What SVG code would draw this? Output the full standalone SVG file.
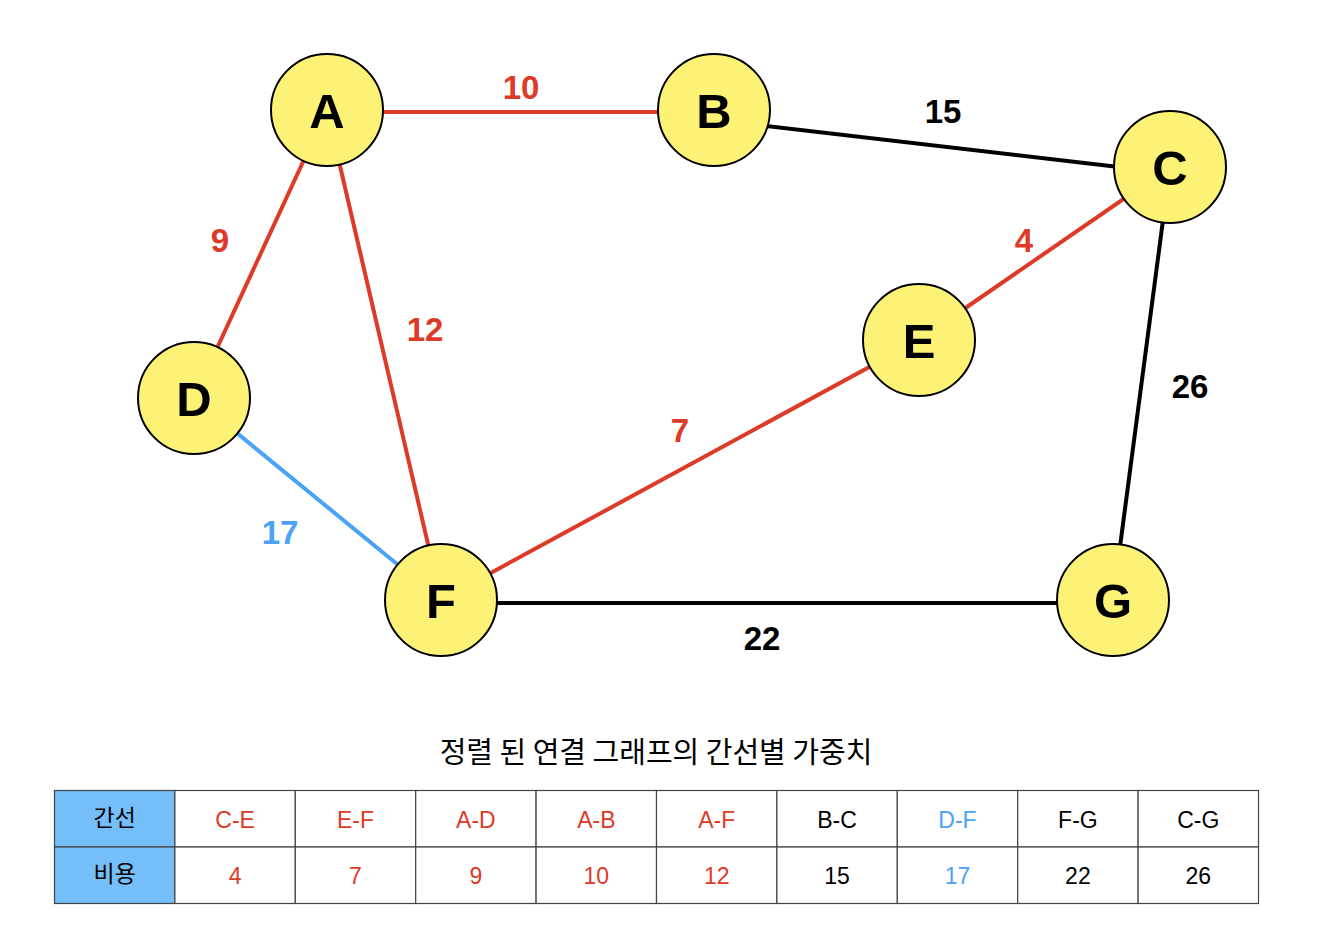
<svg xmlns="http://www.w3.org/2000/svg" width="1338" height="940" viewBox="0 0 1338 940">
<style>
.e{stroke-width:4;fill:none}
.r{stroke:#DD3A27}
.k{stroke:#000}
.b{stroke:#4BA3F5}
.n{fill:#FCF275;stroke:#000;stroke-width:2}
.nl{font-family:"Liberation Sans",Arial,sans-serif;font-weight:bold;font-size:49px;text-anchor:middle;fill:#000}
.wl{font-family:"Liberation Sans",Arial,sans-serif;font-weight:bold;font-size:33px;text-anchor:middle}
.tr{fill:#DD3A27}.tk{fill:#000}.tb{fill:#4BA3F5}
.cell{fill:#fff;stroke:#444;stroke-width:1.2}
.hd{fill:#74BEF9;stroke:#444;stroke-width:1.2}
.tt{font-family:"Liberation Sans","Noto Sans CJK KR",sans-serif;font-size:23px;text-anchor:middle}
.title{font-family:"Noto Sans CJK KR",sans-serif;font-size:29px;text-anchor:middle;fill:#000}
</style>
<g id="connectors">
<line class="e r" x1="327" y1="112" x2="714" y2="112"/>
<line class="e k" x1="714" y1="120" x2="1170" y2="173"/>
<line class="e r" x1="1170" y1="167" x2="919" y2="340"/>
<line class="e k" x1="1170" y1="167" x2="1113" y2="600"/>
<line class="e r" x1="327" y1="110" x2="194" y2="398"/>
<line class="e r" x1="327" y1="110" x2="441" y2="600"/>
<line class="e b" x1="194" y1="398" x2="441" y2="600"/>
<line class="e r" x1="919" y1="340" x2="441" y2="600"/>
<line class="e k" x1="441" y1="603" x2="1113" y2="603"/>
<text class="wl tr" x="521" y="99">10</text>
<text class="wl tk" x="943" y="123">15</text>
<text class="wl tr" x="1024" y="252">4</text>
<text class="wl tr" x="220" y="252">9</text>
<text class="wl tr" x="425" y="341">12</text>
<text class="wl tk" x="1190" y="398">26</text>
<text class="wl tr" x="680" y="442">7</text>
<text class="wl tb" x="280" y="544">17</text>
<text class="wl tk" x="762" y="650">22</text>
</g>
<g id="node-A"><circle class="n" cx="327" cy="110" r="56"/><text class="nl" x="327" y="128">A</text></g>
<g id="node-B"><circle class="n" cx="714" cy="110" r="56"/><text class="nl" x="714" y="128">B</text></g>
<g id="node-C"><circle class="n" cx="1170" cy="167" r="56"/><text class="nl" x="1170" y="185">C</text></g>
<g id="node-D"><circle class="n" cx="194" cy="398" r="56"/><text class="nl" x="194" y="416">D</text></g>
<g id="node-E"><circle class="n" cx="919" cy="340" r="56"/><text class="nl" x="919" y="358">E</text></g>
<g id="node-F"><circle class="n" cx="441" cy="600" r="56"/><text class="nl" x="441" y="618">F</text></g>
<g id="node-G"><circle class="n" cx="1113" cy="600" r="56"/><text class="nl" x="1113" y="618">G</text></g>
<g id="table">
<text class="title" x="656" y="763">정렬 된 연결 그래프의 간선별 가중치</text>
<rect class="hd" x="54.5" y="790.5" width="120.4" height="56.5"/>
<rect class="hd" x="54.5" y="847" width="120.4" height="56.5"/>
<rect class="cell" x="174.9" y="790.5" width="120.4" height="56.5"/>
<rect class="cell" x="295.3" y="790.5" width="120.4" height="56.5"/>
<rect class="cell" x="415.7" y="790.5" width="120.4" height="56.5"/>
<rect class="cell" x="536.1" y="790.5" width="120.4" height="56.5"/>
<rect class="cell" x="656.5" y="790.5" width="120.4" height="56.5"/>
<rect class="cell" x="776.9" y="790.5" width="120.4" height="56.5"/>
<rect class="cell" x="897.3" y="790.5" width="120.4" height="56.5"/>
<rect class="cell" x="1017.7" y="790.5" width="120.4" height="56.5"/>
<rect class="cell" x="1138.1" y="790.5" width="120.4" height="56.5"/>
<rect class="cell" x="174.9" y="847" width="120.4" height="56.5"/>
<rect class="cell" x="295.3" y="847" width="120.4" height="56.5"/>
<rect class="cell" x="415.7" y="847" width="120.4" height="56.5"/>
<rect class="cell" x="536.1" y="847" width="120.4" height="56.5"/>
<rect class="cell" x="656.5" y="847" width="120.4" height="56.5"/>
<rect class="cell" x="776.9" y="847" width="120.4" height="56.5"/>
<rect class="cell" x="897.3" y="847" width="120.4" height="56.5"/>
<rect class="cell" x="1017.7" y="847" width="120.4" height="56.5"/>
<rect class="cell" x="1138.1" y="847" width="120.4" height="56.5"/>
<text class="tt tk" x="114.7" y="826">간선</text>
<text class="tt tk" x="114.7" y="882">비용</text>
<text class="tt tr" x="235.1" y="828">C-E</text>
<text class="tt tr" x="355.5" y="828">E-F</text>
<text class="tt tr" x="475.9" y="828">A-D</text>
<text class="tt tr" x="596.3" y="828">A-B</text>
<text class="tt tr" x="716.7" y="828">A-F</text>
<text class="tt tk" x="837.1" y="828">B-C</text>
<text class="tt tb" x="957.5" y="828">D-F</text>
<text class="tt tk" x="1077.9" y="828">F-G</text>
<text class="tt tk" x="1198.3" y="828">C-G</text>
<text class="tt tr" x="235.1" y="884">4</text>
<text class="tt tr" x="355.5" y="884">7</text>
<text class="tt tr" x="475.9" y="884">9</text>
<text class="tt tr" x="596.3" y="884">10</text>
<text class="tt tr" x="716.7" y="884">12</text>
<text class="tt tk" x="837.1" y="884">15</text>
<text class="tt tb" x="957.5" y="884">17</text>
<text class="tt tk" x="1077.9" y="884">22</text>
<text class="tt tk" x="1198.3" y="884">26</text>
</g>
</svg>
